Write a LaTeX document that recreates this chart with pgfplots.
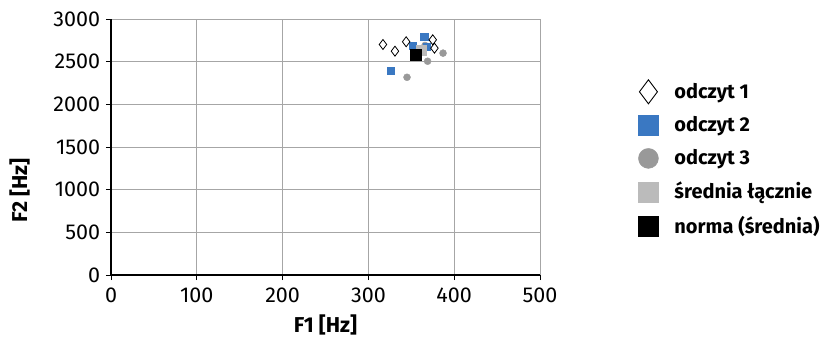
\documentclass[border=0pt]{standalone}
\usepackage{pgfplots}
\pgfplotsset{compat=1.18}
\usepackage{fontspec}
\setmainfont{Fira Sans}
\definecolor{blueM}{HTML}{3A78C2}
\definecolor{grayC}{HTML}{999999}
\definecolor{grayL}{HTML}{BBBBBB}
\begin{document}
\fontsize{17}{20}\selectfont
\begin{tikzpicture}
\begin{axis}[
  at={(0pt,0pt)}, anchor=south west,
  scale only axis, width=429pt, height=256pt,
  xmin=0, xmax=500, ymin=0, ymax=3000,
  xtick={0,100,...,500}, ytick={0,500,...,3000},
  grid=major, grid style={gray!70, line width=0.8pt},
  axis x line*=bottom, axis y line*=left,
  axis line style={black, line width=1.6pt, -},
  tick style={black, line width=0.8pt}, tick align=outside, major tick length=5pt,
  /pgf/number format/assume math mode=true,
  /pgf/number format/1000 sep={},
  ticklabel style={font=\fontsize{21.5}{25}\selectfont},
  xticklabel style={yshift=-2pt},
  xlabel={\textbf{F1 [Hz]}}, ylabel={\textbf{F2 [Hz]}},
  label style={font=\fontsize{21.5}{25}\selectfont},
  xlabel style={yshift=-1pt},
  ylabel style={at={(ticklabel cs:0.33)}, yshift=12pt},
  clip=false,
  legend style={at={(1.222,0.453)}, anchor=west, draw=none, fill=none,
    font=\bfseries\fontsize{20}{23}\selectfont, row sep=11pt,
    /tikz/every odd column/.append style={column sep=14pt}},
  legend cell align=left,
]
\addlegendimage{only marks, mark=diamond, mark size=12pt, mark options={draw=black, fill=white, line width=0.9pt}}
\addlegendentry{odczyt 1}
\addlegendimage{only marks, mark=square*, mark size=10pt, mark options={draw=blueM, fill=blueM}}
\addlegendentry{odczyt 2}
\addlegendimage{only marks, mark=*, mark size=10pt, mark options={draw=grayC, fill=grayC}}
\addlegendentry{odczyt 3}
\addlegendimage{only marks, mark=square*, mark size=10pt, mark options={draw=grayL, fill=grayL}}
\addlegendentry{średnia łącznie}
\addlegendimage{only marks, mark=square*, mark size=10pt, mark options={draw=black, fill=black}}
\addlegendentry{norma (średnia)}
% odczyt 3
\addplot[forget plot, only marks, mark=*, mark size=3.5pt, draw=grayC, fill=grayC] coordinates {
(366,2690) (387,2600) (369,2505) (345,2317) (363,2650)};
% odczyt 2
\addplot[forget plot, only marks, mark=square*, mark size=3.6pt, draw=blueM, fill=blueM] coordinates {
(365,2795) (352,2690) (326,2395) (368,2680)};
% srednia lacznie
\addplot[forget plot, only marks, mark=square*, mark size=5pt, draw=grayL, fill=grayL] coordinates {
(362,2630)};
% odczyt 1
\addplot[forget plot, only marks, mark=diamond, mark size=5pt, mark options={draw=black, fill=white, line width=0.8pt}] coordinates {
(317,2701) (331,2623) (344,2733) (375,2756) (377,2658)};
% norma
\addplot[forget plot, only marks, mark=square*, mark size=5.5pt, draw=black, fill=black] coordinates {
(355,2583)};
\end{axis}
\pgfresetboundingbox
\path[use as bounding box] (-111pt,-65pt) rectangle (716pt,275pt);
\end{tikzpicture}
\end{document}
